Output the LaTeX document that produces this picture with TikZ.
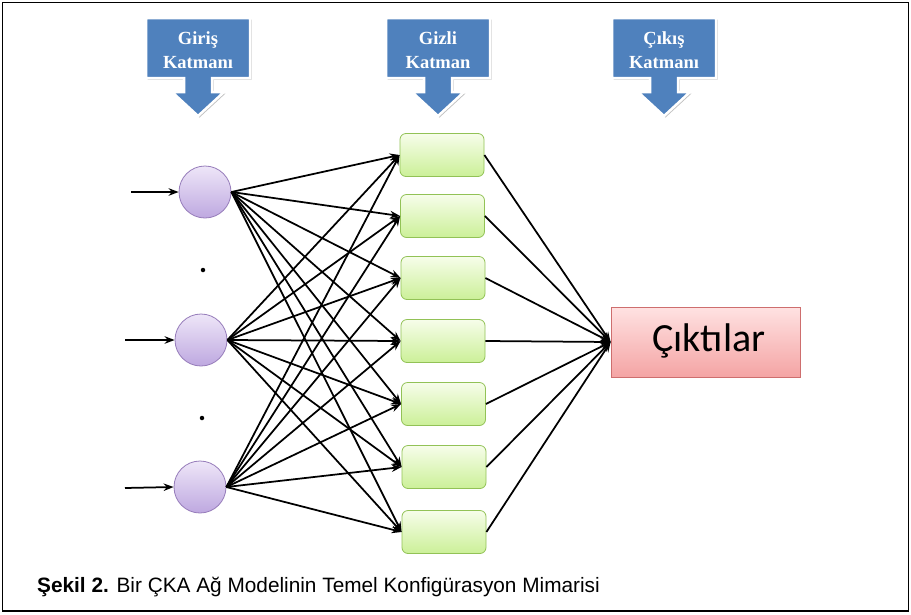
\documentclass[tikz,border=0pt]{standalone}
\usepackage{fontspec}
\setmainfont{Liberation Serif}
\newfontfamily\carlito{Carlito}
\newfontfamily\capfont{Liberation Sans}
\usetikzlibrary{arrows.meta}
\definecolor{calloutblue}{RGB}{79,129,189}
\definecolor{circtop}{RGB}{238,230,248}
\definecolor{circbot}{RGB}{190,168,224}
\definecolor{circline}{RGB}{150,124,186}
\definecolor{boxtop}{RGB}{246,253,234}
\definecolor{boxbot}{RGB}{204,240,152}
\definecolor{boxline}{RGB}{146,194,86}
\definecolor{outtop}{RGB}{255,226,226}
\definecolor{outbot}{RGB}{244,164,164}
\definecolor{outline}{RGB}{206,110,110}
\tikzset{
  neuron/.style={circle, minimum size=52pt, inner sep=0pt, draw=circline, line width=0.8pt, top color=circtop, bottom color=circbot},
  hidbox/.style={rounded corners=6pt, minimum width=84pt, minimum height=43pt, inner sep=0pt, draw=boxline, line width=0.8pt, top color=boxtop, bottom color=boxbot},
  outbox/.style={minimum width=189pt, minimum height=70pt, inner sep=0pt, draw=outline, line width=0.8pt, top color=outtop, bottom color=outbot},
  conn/.style={line width=1.75pt, -{Stealth[length=10pt,width=7.5pt]}},
  calltext/.style={font=\fontsize{18.5}{18.5}\selectfont\bfseries, text=white, anchor=base, inner sep=0pt},
  dotmark/.style={circle, fill=black, inner sep=0pt, minimum size=4.5pt}
}
\newcommand\mycallout[4]{%
  \fill[black!25] ([xshift=1.5pt,yshift=-1.5pt]#1-52,18) -- ++(104,0) -- ++(0,60) -- ++(-38,0) -- ++(0,14) -- ++(12,0) -- ++(-26,24) -- ++(-26,-24) -- ++(12,0) -- ++(0,-14) -- ++(-38,0) -- cycle;
  \draw[white, line width=2.5pt, fill=calloutblue, line join=miter] (#1-52,18) -- (#1+52,18) -- (#1+52,78) -- (#1+14,78) -- (#1+14,92) -- (#1+26,92) -- (#1,116) -- (#1-26,92) -- (#1-14,92) -- (#1-14,78) -- (#1-52,78) -- cycle;
  \node[calltext] (#4a) at (#1,44) {#2};
  \node[calltext] (#4b) at (#1,68) {#3};
}
\begin{document}
\begin{tikzpicture}[x=1pt,y=-1pt]
\useasboundingbox (0,0) rectangle (911,614);
\fill[white] (0,0) rectangle (911,614);
\draw[line width=1.6pt] (2.5,2.5) rectangle (908.5,611);

\mycallout{198}{Giriş}{Katmanı}{cg}
\mycallout{438}{Gizli}{Katman}{ch}
\mycallout{664}{Çıkış}{Katmanı}{co}

% input neurons
\node[neuron] (n1) at (205,192) {};
\node[neuron] (n2) at (201,340) {};
\node[neuron] (n3) at (200,487) {};
\node[dotmark] (d1) at (203,270) {};
\node[dotmark] (d2) at (202,418) {};

\coordinate (i1) at (131,192);
\coordinate (i2) at (125,340);
\coordinate (i3) at (125,488);
\draw[conn] (i1) -- (n1.west);
\draw[conn] (i2) -- (n2.west);
\draw[conn] (i3) -- (n3.west);

% hidden boxes
\node[hidbox] (h1) at (442,155) {};
\node[hidbox] (h2) at (442.5,216) {};
\node[hidbox] (h3) at (443,278) {};
\node[hidbox] (h4) at (443,341) {};
\node[hidbox] (h5) at (443.5,404) {};
\node[hidbox] (h6) at (444,467) {};
\node[hidbox] (h7) at (444,532) {};

% output
\node[outbox] (out) at (705.5,342) {};
\node[font=\carlito\fontsize{40}{40}\selectfont, inner sep=0pt] (outtxt) at (709,341) {Çıktılar};

\foreach \i in {1,2,3}{
  \foreach \j in {1,...,7}{
    \draw[conn] (n\i.east) -- (h\j.west);
  }
}
\foreach \j in {1,...,7}{
  \draw[conn] (h\j.east) -- (out.west);
}

\node[font=\capfont\fontsize{20.8}{20.8}\selectfont, anchor=base west, inner sep=0pt] (cap) at (37,592) {\textbf{Şekil 2.} Bir ÇKA Ağ Modelinin Temel Konfigürasyon Mimarisi};
\end{tikzpicture}
\end{document}
